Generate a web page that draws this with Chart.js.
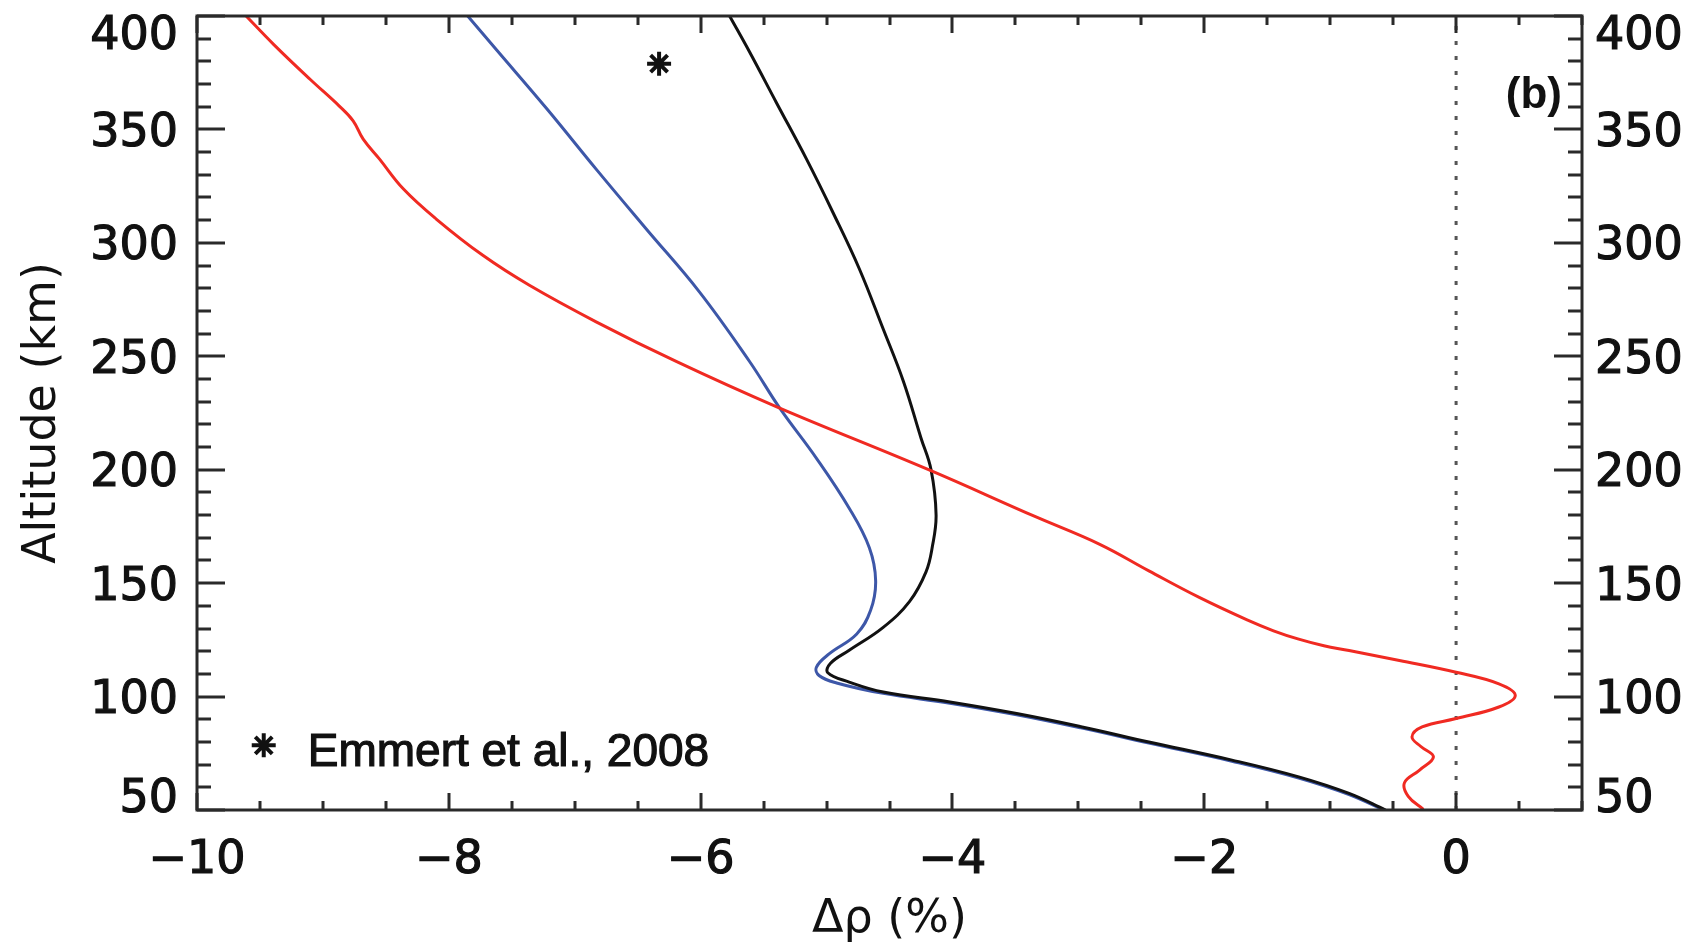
<!DOCTYPE html>
<html>
<head>
<meta charset="utf-8">
<script src="https://cdn.jsdelivr.net/npm/chart.js@4.4.0/dist/chart.umd.min.js"></script>
<style>
  html, body { margin: 0; padding: 0; background: #fff; }
  #wrap { width: 1697px; height: 948px; }
</style>
</head>
<body>
<div id="wrap"><canvas id="profile"></canvas></div>
<script>
// Density change profiles, Δρ (%) against altitude (km).
// Each curve is listed from the top of the plot downwards.
const redX   = [-9.61, -9.39, -9.10, -8.87, -8.76, -8.68, -8.55, -8.36, -8.10, -7.73, -7.36, -6.83, -6.19, -5.40, -4.19, -3.35, -2.83, -2.44, -2.04, -1.66, -1.45, -1.25, -1.05, -0.85, -0.45, 0.00, 0.34, 0.47, 0.34, 0.00, -0.27, -0.35, -0.28, -0.18, -0.29, -0.41, -0.38, -0.26];
const redAlt = [400, 387.4, 372, 360.3, 353.8, 345.7, 336.9, 323.7, 310.5, 294.5, 281.3, 265.2, 247.6, 227.8, 200, 179.5, 167.1, 155.4, 143.7, 133.8, 129, 125.3, 122.4, 120.3, 115.9, 110.7, 105.6, 100.5, 95.4, 90.3, 86.6, 82.2, 78, 73.4, 67.6, 62, 56, 50.3];

const blueX   = [-7.85, -7.62, -7.22, -6.83, -6.43, -6.01, -5.61, -5.37, -5.08, -4.82, -4.66, -4.61, -4.65, -4.76, -4.98, -5.08, -5.06, -4.92, -4.55, -4.02, -3.49, -2.97, -2.44, -1.78, -1.25, -0.85, -0.56];
const blueAlt = [400, 385, 359, 332.5, 306, 278.4, 247.6, 227, 205, 183, 165.6, 151, 138, 127.6, 118.8, 113, 109.3, 106, 101.4, 97.1, 92, 86.1, 79.5, 71.5, 64.1, 56.8, 49.6];

const blackX   = [-5.77, -5.61, -5.40, -5.16, -4.95, -4.74, -4.55, -4.39, -4.25, -4.17, -4.13, -4.16, -4.21, -4.34, -4.55, -4.82, -4.97, -4.99, -4.82, -4.55, -4.02, -3.49, -2.97, -2.44, -1.78, -1.25, -0.85, -0.56];
const blackAlt = [400, 384, 362, 337, 313.5, 288.6, 262, 239, 214, 200, 180, 166, 155, 142, 130.5, 120.4, 114.6, 110.5, 106.4, 102, 97.6, 92.5, 86.6, 80, 72, 64.6, 57.3, 50];

// Emmert et al. (2008) value, and the star that marks it in the key
const emmertX = [-6.33];
const emmertAlt = [379];
const keyX = [-9.47];
const keyAlt = [78.5];
const keyText = 'Emmert et al., 2008';
const panelLabel = '(b)';

// axes
const X_MIN = -10, X_MAX = 1, X_MINOR_STEP = 0.5;
const Y_MIN = 50, Y_MAX = 400, Y_MINOR_STEP = 10;
const xMajorTicks = [-10, -8, -6, -4, -2, 0];
const yMajorTicks = [50, 100, 150, 200, 250, 300, 350, 400];
const xTitle = 'Δρ (%)';
const yTitle = 'Altitude (km)';

const INK = '#111';
const AXIS_COLOR = '#2a2a2a';
const TICK_FONT = '"DejaVu Sans", sans-serif';
const NOTE_FONT = '"Liberation Sans", Arial, sans-serif';

const pts = (xs, ys) => xs.map((v, i) => ({ x: v, y: ys[i] }));

// text with a thin outline so it reads as heavy as the scanned original
function inkText(ctx, s, x, y) {
  ctx.fillText(s, x, y);
  ctx.strokeText(s, x, y);
}

// frame, inward ticks on all four sides, y labels (end labels kept inside the frame), notes
const frameAndTicks = {
  id: 'frameAndTicks',
  afterDatasetsDraw(chart) {
    const { ctx, chartArea: a, scales: { x, y } } = chart;
    ctx.save();
    ctx.strokeStyle = AXIS_COLOR;
    ctx.lineWidth = 3;
    ctx.lineCap = 'butt';

    ctx.beginPath();
    for (let v = X_MIN; v <= X_MAX + 1e-9; v += X_MINOR_STEP) {
      const px = Math.round(x.getPixelForValue(v));
      const len = xMajorTicks.includes(v) ? 17 : 9;
      ctx.moveTo(px, a.bottom); ctx.lineTo(px, a.bottom - len);
      ctx.moveTo(px, a.top);    ctx.lineTo(px, a.top + len);
    }
    for (let v = Y_MIN; v <= Y_MAX + 1e-9; v += Y_MINOR_STEP) {
      const py = Math.round(y.getPixelForValue(v));
      const len = yMajorTicks.includes(v) ? 28 : 14;
      ctx.moveTo(a.left, py);  ctx.lineTo(a.left + len, py);
      ctx.moveTo(a.right, py); ctx.lineTo(a.right - len, py);
    }
    ctx.stroke();
    ctx.strokeRect(a.left, a.top, a.right - a.left, a.bottom - a.top);

    // altitude labels on both sides
    ctx.fillStyle = INK;
    ctx.strokeStyle = INK;
    ctx.lineWidth = 1.2;
    ctx.font = '46px ' + TICK_FONT;
    ctx.textBaseline = 'alphabetic';
    yMajorTicks.forEach(v => {
      let cy = y.getPixelForValue(v);
      cy = Math.min(Math.max(cy, a.top + 16), a.bottom - 15);
      const base = cy + 16.5;
      ctx.textAlign = 'right';
      inkText(ctx, String(v), a.left - 19, base);
      ctx.textAlign = 'left';
      inkText(ctx, String(v), a.right + 13, base);
    });

    // panel label
    ctx.font = 'bold 44px ' + NOTE_FONT;
    ctx.textAlign = 'right';
    ctx.fillText(panelLabel, a.right - 20, a.top + 92);

    // key text next to the key star
    ctx.font = '46px ' + NOTE_FONT;
    ctx.textAlign = 'left';
    inkText(ctx, keyText, x.getPixelForValue(keyX[0]) + 44, y.getPixelForValue(keyAlt[0]) + 21);
    ctx.restore();
  }
};

new Chart(document.getElementById('profile'), {
  type: 'scatter',
  data: {
    datasets: [
      {
        label: 'Red',
        data: pts(redX, redAlt),
        showLine: true, borderColor: '#f02a22', borderWidth: 3, tension: 0.4,
        pointRadius: 0, order: 1
      },
      {
        label: 'Black',
        data: pts(blackX, blackAlt),
        showLine: true, borderColor: INK, borderWidth: 3, tension: 0.4,
        pointRadius: 0, order: 2
      },
      {
        label: 'Blue',
        data: pts(blueX, blueAlt),
        showLine: true, borderColor: '#3d57a8', borderWidth: 3, tension: 0.4,
        pointRadius: 0, order: 3
      },
      {
        label: 'Zero',
        data: [{ x: 0, y: Y_MIN }, { x: 0, y: Y_MAX }],
        showLine: true, borderColor: '#555', borderWidth: 3, borderDash: [4, 11],
        pointRadius: 0, order: 4
      },
      {
        label: 'Emmert et al., 2008',
        data: pts(emmertX, emmertAlt).concat(pts(keyX, keyAlt)),
        showLine: false, pointStyle: 'star', pointRadius: 12,
        pointBorderWidth: 4, borderColor: INK, backgroundColor: INK, order: 0
      }
    ]
  },
  options: {
    responsive: true,
    maintainAspectRatio: false,
    animation: false,
    layout: { padding: { top: 13, left: 0, right: 0, bottom: 0 } },
    plugins: { legend: { display: false }, tooltip: { enabled: false } },
    scales: {
      x: {
        type: 'linear', position: 'bottom', min: X_MIN, max: X_MAX,
        afterBuildTicks: s => { s.ticks = xMajorTicks.map(v => ({ value: v })); },
        afterFit: s => { s.height = 138; },
        grid: { display: false, drawTicks: false },
        border: { display: false },
        ticks: {
          color: INK, padding: 28, maxRotation: 0, autoSkip: false,
          textStrokeColor: INK, textStrokeWidth: 1.2,
          font: { size: 46, family: TICK_FONT, lineHeight: 1 },
          callback: v => (v < 0 ? '\u2212' + Math.abs(v) : String(v))
        },
        title: {
          display: true, text: xTitle, color: INK,
          font: { size: 46, family: TICK_FONT, lineHeight: 1.2 },
          padding: { top: 0, bottom: 0 }
        }
      },
      y: {
        type: 'linear', position: 'left', min: Y_MIN, max: Y_MAX,
        afterFit: s => { s.width = 197; },
        grid: { display: false, drawTicks: false },
        border: { display: false },
        ticks: { display: false },
        title: {
          display: true, text: yTitle, color: INK,
          font: { size: 46, family: TICK_FONT, lineHeight: 1.2 },
          padding: { top: 15, bottom: 0 }
        }
      },
      yRight: {
        type: 'linear', position: 'right', min: Y_MIN, max: Y_MAX,
        afterFit: s => { s.width = 115; },
        grid: { display: false, drawTicks: false },
        border: { display: false },
        ticks: { display: false }
      }
    }
  },
  plugins: [frameAndTicks]
});
</script>
</body>
</html>
